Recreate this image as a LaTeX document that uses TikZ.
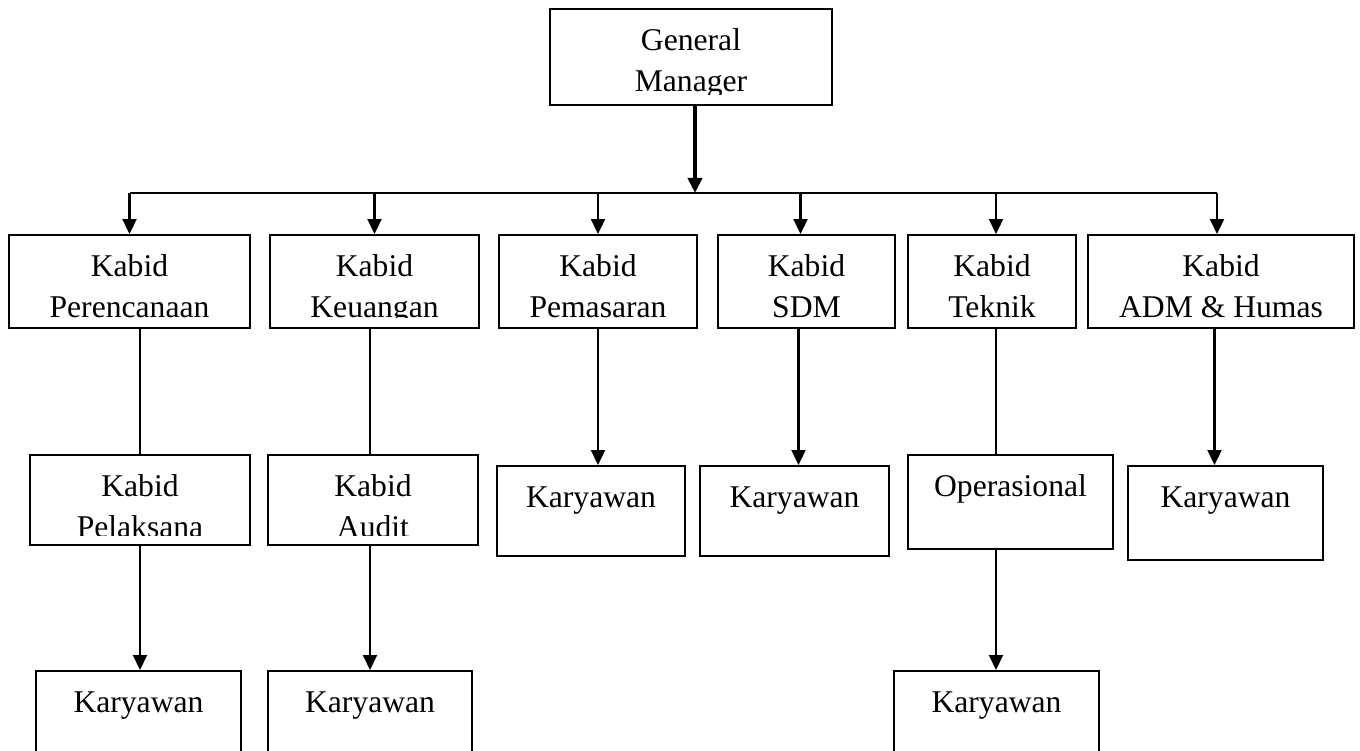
\documentclass[tikz,border=0pt]{standalone}
\usepackage{fontspec}
\setmainfont{Liberation Serif}
\usetikzlibrary{arrows.meta}

\newcommand{\boxfont}{\fontsize{18}{23.3}\selectfont}

\tikzset{
	box/.style={draw, line width=1.1pt, inner sep=0pt, path picture={
		\clip ([yshift=0.2cm]path picture bounding box.south west) rectangle (path picture bounding box.north east);
		\node[draw=none, minimum width=0pt, minimum height=0pt, anchor=north, inner sep=0pt, align=center, font=\boxfont] at (path picture bounding box.north) {\rule{0pt}{0.82cm}#1};}},
	arr/.style={-{Triangle[length=0.3cm, width=0.28cm]}, line width=1.2pt, black},
	conn/.style={line width=1.2pt, black}
}

\begin{document}
\begin{tikzpicture}

			\useasboundingbox (0,0) rectangle (27.2,-15.02);
			% General Manager
			\node[box={General\\Manager}, minimum width=5.64cm, minimum height=1.92cm] (gm) at (13.82,-1.14) {};
			\coordinate (split) at (13.9,-3.86);

			% Kabid
			\node[box={Kabid\\Perencanaan}, minimum width=4.82cm, minimum height=1.86cm] (renc) at (2.59,-5.63) {};
			\node[box={Kabid\\Keuangan},    minimum width=4.18cm, minimum height=1.86cm] (keu)  at (7.49,-5.63) {};
			\node[box={Kabid\\Pemasaran},   minimum width=3.96cm, minimum height=1.86cm] (pem)  at (11.96,-5.63) {};
			\node[box={Kabid\\SDM},         minimum width=3.54cm, minimum height=1.86cm] (sdm)  at (16.13,-5.63) {};
			\node[box={Kabid\\Teknik},      minimum width=3.36cm, minimum height=1.86cm] (tek)  at (19.84,-5.63) {};
			\node[box={Kabid\\ADM \& Humas},minimum width=5.32cm, minimum height=1.86cm] (adm)  at (24.42,-5.63) {};

			% Level 3
			\node[box={Kabid\\Pelaksana}, minimum width=4.4cm,  minimum height=1.8cm]  (pel)  at (2.80,-10.00) {};
			\node[box={Kabid\\Audit},     minimum width=4.2cm,  minimum height=1.8cm]  (aud)  at (7.46,-10.00) {};
			\node[box={Karyawan},         minimum width=3.76cm, minimum height=1.8cm]  (kpem) at (11.82,-10.22) {};
			\node[box={Karyawan},         minimum width=3.78cm, minimum height=1.8cm]  (ksdm) at (15.89,-10.22) {};
			\node[box={Operasional},      minimum width=4.1cm,  minimum height=1.88cm] (ops)  at (20.21,-10.04) {};
			\node[box={Karyawan},         minimum width=3.9cm,  minimum height=1.88cm] (kadm) at (24.51,-10.26) {};

			% Level 4
			\node[box={Karyawan}, anchor=north, minimum width=4.1cm,  minimum height=2.2cm] (kpel) at (2.77,-13.40) {};
			\node[box={Karyawan}, anchor=north, minimum width=4.08cm, minimum height=2.2cm] (kaud) at (7.40,-13.40) {};
			\node[box={Karyawan}, anchor=north, minimum width=4.1cm,  minimum height=2.2cm] (kops) at (19.93,-13.40) {};

			% Arrow GM
			\draw[arr, line width=2.2pt] (split |- gm.south) -- (split);
			\draw[conn, line width=1.4pt] (renc.north |- split) -- ([xshift=-0.08cm]adm.north |- split);
			% Arrows Kabid
			\draw[arr] (renc.north |- split) -- (renc.north);
			\draw[arr] (keu.north |- split) -- (keu.north);
			\draw[arr] (pem.north |- split) -- (pem.north);
			\draw[arr] ([xshift=-0.12cm]sdm.north |- split) -- ([xshift=-0.12cm]sdm.north);
			\draw[arr] ([xshift=0.08cm]tek.north |- split) -- ([xshift=0.08cm]tek.north);
			\draw[arr] ([xshift=-0.08cm]adm.north |- split) -- ([xshift=-0.08cm]adm.north);
			% Lines level 3
			\draw[conn] (pel.north |- renc.south) -- (pel.north);
			\draw[conn] ([xshift=-0.06cm]aud.north |- keu.south) -- ([xshift=-0.06cm]aud.north);
			\draw[arr] (pem.south) -- (pem.south |- kpem.north);
			\draw[arr] ([xshift=0.08cm]ksdm.north |- sdm.south) -- ([xshift=0.08cm]ksdm.north);
			\draw[conn] ([xshift=0.08cm]tek.south) -- ([xshift=0.08cm]tek.south |- ops.north);
			\draw[arr] ([xshift=-0.22cm]kadm.north |- adm.south) -- ([xshift=-0.22cm]kadm.north);
			% Arrows level 4
			\draw[arr] (pel.south) -- (pel.south |- kpel.north);
			\draw[arr] ([xshift=-0.06cm]aud.south) -- ([xshift=-0.06cm]aud.south |- kaud.north);
			\draw[arr] ([xshift=0.08cm]tek.south |- ops.south) -- ([xshift=0.08cm]tek.south |- kops.north);
		\end{tikzpicture}
\end{document}
